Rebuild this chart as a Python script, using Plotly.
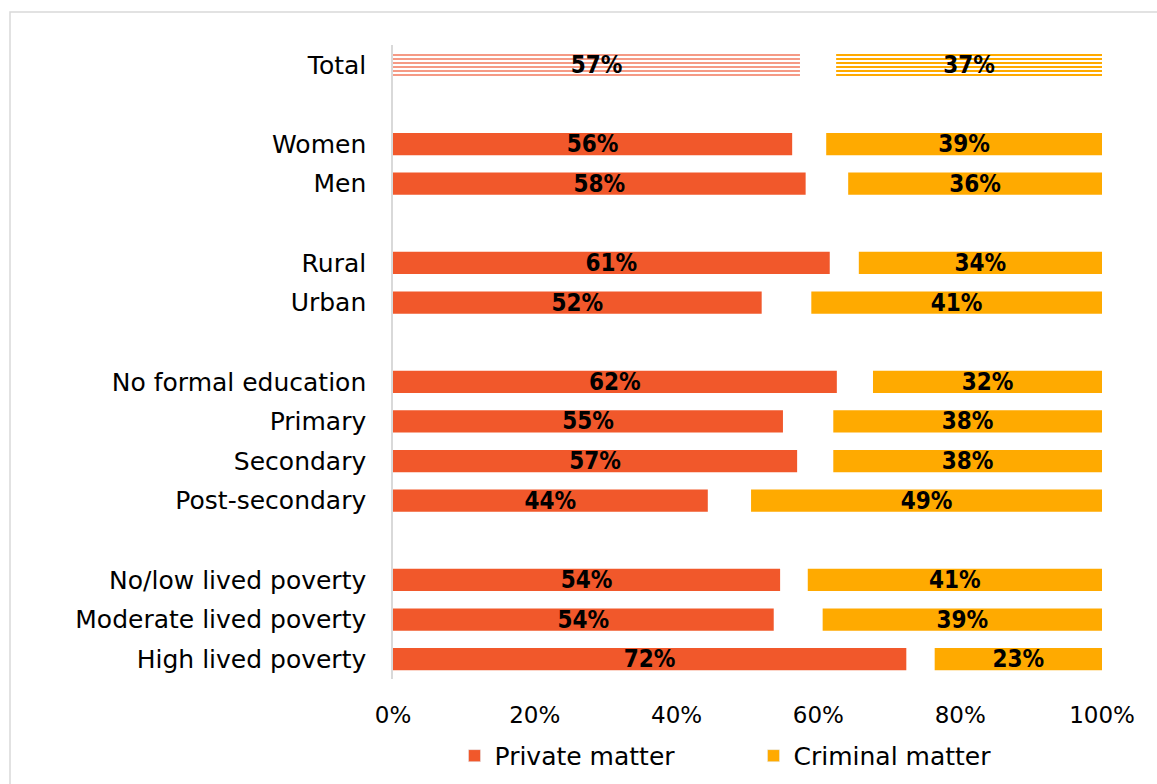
import plotly.graph_objects as go

groups = [
    ["Total"],
    ["Women", "Men"],
    ["Rural", "Urban"],
    ["No formal education", "Primary", "Secondary", "Post-secondary"],
    ["No/low lived poverty", "Moderate lived poverty", "High lived poverty"],
]
categories = [c for g in groups for c in g]
private_vals = [57.4, 56.3, 58.2, 61.6, 52.0, 62.6, 55.0, 57.0, 44.4, 54.6, 53.7, 72.4]
criminal_vals = [37.5, 38.9, 35.8, 34.3, 41.0, 32.3, 37.9, 37.9, 49.5, 41.5, 39.4, 23.6]
private_labels = ["57%", "56%", "58%", "61%", "52%", "62%", "55%", "57%", "44%", "54%", "54%", "72%"]
criminal_labels = ["37%", "39%", "36%", "34%", "41%", "32%", "38%", "38%", "49%", "41%", "39%", "23%"]
x_ticks = [0, 20, 40, 60, 80, 100]
x_tick_labels = ["0%", "20%", "40%", "60%", "80%", "100%"]

# slot positions with a blank slot between groups
ypos = []
slot = 0
for g in groups:
    for c in g:
        ypos.append(slot)
        slot += 1
    slot += 1
last_slot = ypos[-1]

PRIV = "#F1582B"
CRIM = "#FFAA00"
PRIV_LIGHT = "#F59A85"

tick_font = dict(family="DejaVu Sans", size=25, color="#000000")
xtick_font = dict(family="DejaVu Sans", size=23, color="#000000")
label_font = dict(family="DejaVu Sans Condensed, DejaVu Sans, sans-serif",
                  size=24, color="#000000", weight="bold")

fig = go.Figure()


def add_series(vals, labels, base, color, pat_color):
    # Total row (striped)
    fig.add_trace(go.Bar(
        y=ypos[:1], x=vals[:1], base=None if base is None else base[:1], orientation="h",
        marker=dict(color="#FFFFFF", line=dict(width=0),
                    pattern=dict(shape="-", fgcolor=pat_color, bgcolor="#FFFFFF",
                                 size=4, solidity=0.5, fillmode="replace")),
        text=labels[:1], textposition="inside", insidetextanchor="middle",
        textangle=0, constraintext="none", textfont=label_font,
        width=0.56, showlegend=False, hoverinfo="skip",
    ))
    fig.add_trace(go.Bar(
        y=ypos[1:], x=vals[1:], base=None if base is None else base[1:], orientation="h",
        marker=dict(color=color, line=dict(width=0)),
        text=labels[1:], textposition="inside", insidetextanchor="middle",
        textangle=0, constraintext="none", textfont=label_font,
        width=0.56, showlegend=False, hoverinfo="skip",
    ))


add_series(private_vals, private_labels, None, PRIV, PRIV_LIGHT)
add_series(criminal_vals, criminal_labels, [100 - v for v in criminal_vals], CRIM, CRIM)

# legend entries (solid swatches)
fig.add_trace(go.Bar(y=[None], x=[None], orientation="h", name="Private matter",
                     marker=dict(color=PRIV), showlegend=True))
fig.add_trace(go.Bar(y=[None], x=[None], orientation="h", name="Criminal matter",
                     marker=dict(color=CRIM), showlegend=True))

fig.update_layout(
    width=1157, height=784,
    margin=dict(l=393, r=55, t=45, b=105, autoexpand=False),
    paper_bgcolor="white", plot_bgcolor="white",
    barmode="overlay",
    showlegend=True,
    legend=dict(orientation="h", x=0.5 + 6 / 709, xanchor="center", y=-0.085, yanchor="top",
                font=dict(family="DejaVu Sans", size=25, color="#000000"),
                traceorder="normal", entrywidth=254),
    xaxis=dict(range=[0, 100], tickvals=x_ticks, ticktext=x_tick_labels,
               showgrid=False, zeroline=False, showline=False,
               tickfont=xtick_font, ticklabelstandoff=20, fixedrange=True),
    yaxis=dict(range=[last_slot + 0.5, -0.5], tickvals=ypos, ticktext=categories,
               showgrid=False, zeroline=False, showline=True, linecolor="#D9D9D9",
               linewidth=1.5, tickfont=tick_font, ticklabelstandoff=20, fixedrange=True),
    shapes=[dict(type="rect", xref="paper", yref="paper",
                 x0=(10 - 393) / 709, x1=(1170 - 393) / 709,
                 y0=(679 - 800) / 634, y1=1 + (45 - 12) / 634,
                 line=dict(color="#D9D9D9", width=1.5), fillcolor="rgba(0,0,0,0)", layer="below")],
)

fig.write_html("out.html")
